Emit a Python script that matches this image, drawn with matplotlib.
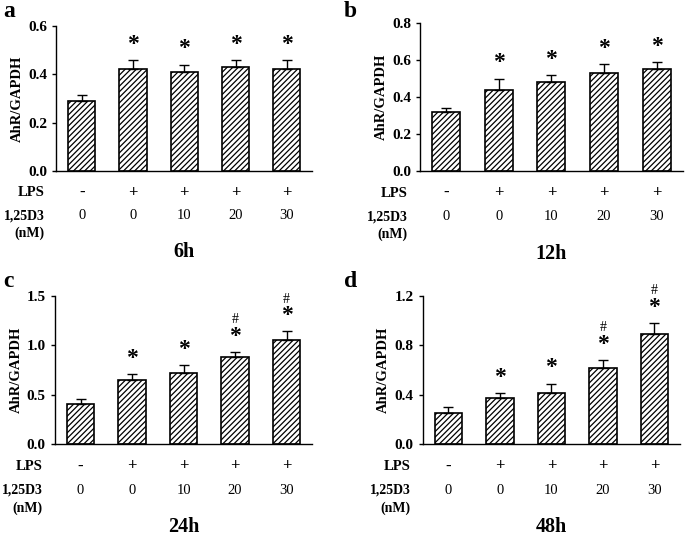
import numpy as np
import matplotlib.pyplot as plt

plt.rcParams['font.family'] = ['Liberation Serif', 'DejaVu Serif']
plt.rcParams['hatch.linewidth'] = 0.9

lps = ['-', '+', '+', '+', '+']
dose = ['0', '0', '10', '20', '30']

panels = ['a', 'b', 'c', 'd']
times = ['6h', '12h', '24h', '48h']
means = [
    [0.29, 0.42, 0.41, 0.43, 0.42],
    [0.32, 0.44, 0.48, 0.53, 0.55],
    [0.41, 0.65, 0.72, 0.88, 1.05],
    [0.25, 0.37, 0.41, 0.62, 0.89],
]
errs = [
    [0.025, 0.04, 0.03, 0.03, 0.04],
    [0.02, 0.06, 0.04, 0.05, 0.04],
    [0.05, 0.06, 0.08, 0.05, 0.09],
    [0.05, 0.04, 0.08, 0.06, 0.09],
]
stars = [
    [False, True, True, True, True],
    [False, True, True, True, True],
    [False, True, True, True, True],
    [False, True, True, True, True],
]
hashes = [
    [False] * 5,
    [False] * 5,
    [False, False, False, True, True],
    [False, False, False, True, True],
]
ymax = [0.6, 0.8, 1.5, 1.2]
ystep = [0.2, 0.2, 0.5, 0.4]

# axes rectangles [left, bottom, width, height] in figure fraction
rects = [
    [0.082, 0.683, 0.374, 0.269],
    [0.613, 0.683, 0.384, 0.274],
    [0.080, 0.176, 0.376, 0.275],
    [0.617, 0.176, 0.376, 0.275],
]
letter_pos = [(0.005, 0.978), (0.502, 0.978), (0.005, 0.478), (0.502, 0.478)]

fig = plt.figure(figsize=(6.85, 5.39), dpi=100)

for i in range(4):
    ax = fig.add_axes(rects[i])
    x = np.arange(5)
    m = np.array(means[i])
    e = np.array(errs[i])
    ax.bar(x, m, 0.53, color='white', edgecolor='black', hatch='//////', linewidth=1.2, zorder=2)
    ax.errorbar(x, m, yerr=[np.zeros(5), e], fmt='none', ecolor='black', elinewidth=1.0,
                capsize=3.5, capthick=1.0, zorder=3)
    ax.set_xlim(-0.5, 4.5)
    ax.set_ylim(0, ymax[i])
    ticks = np.arange(0, ymax[i] + 1e-9, ystep[i])
    ax.set_yticks(ticks)
    ax.set_yticklabels(['%.1f' % t for t in ticks], fontsize=11, fontweight='bold')
    ax.set_xticks([])
    ax.spines['top'].set_visible(False)
    ax.spines['right'].set_visible(False)
    ax.spines['left'].set_linewidth(1.0)
    ax.spines['bottom'].set_linewidth(1.0)
    ax.tick_params(axis='y', length=3, width=1, direction='out')
    ax.set_ylabel('AhR/GAPDH', fontsize=10.5, fontweight='bold', labelpad=3)

    off = ymax[i] * 0.035
    for j in range(5):
        top = m[j] + e[j] + off
        if stars[i][j]:
            ax.text(j, top, '*', ha='center', va='bottom', fontsize=17, fontweight='bold')
        if hashes[i][j]:
            ax.text(j, top + ymax[i] * 0.14, '#', ha='center', va='bottom', fontsize=10)

    tr = ax.get_xaxis_transform()
    for j in range(5):
        ax.text(j, -0.15, lps[j], transform=tr, ha='center', va='center', fontsize=12,
                fontweight='bold', clip_on=False)
        ax.text(j, -0.31, dose[j], transform=tr, ha='center', va='center', fontsize=10.5,
                clip_on=False)
    ax.text(-0.73, -0.15, 'LPS', transform=tr, ha='right', va='center', fontsize=10.5,
            fontweight='bold')
    ax.text(-0.73, -0.31, '1,25D3', transform=tr, ha='right', va='center', fontsize=10,
            fontweight='bold')
    ax.text(-0.73, -0.43, '(nM)', transform=tr, ha='right', va='center', fontsize=10,
            fontweight='bold')
    ax.text(0.5, -0.56, times[i], transform=ax.transAxes, ha='center', va='center',
            fontsize=14.5, fontweight='bold')
    fig.text(letter_pos[i][0], letter_pos[i][1], panels[i], fontsize=17, fontweight='bold',
             va='center')

plt.savefig('out.png', dpi=100)
